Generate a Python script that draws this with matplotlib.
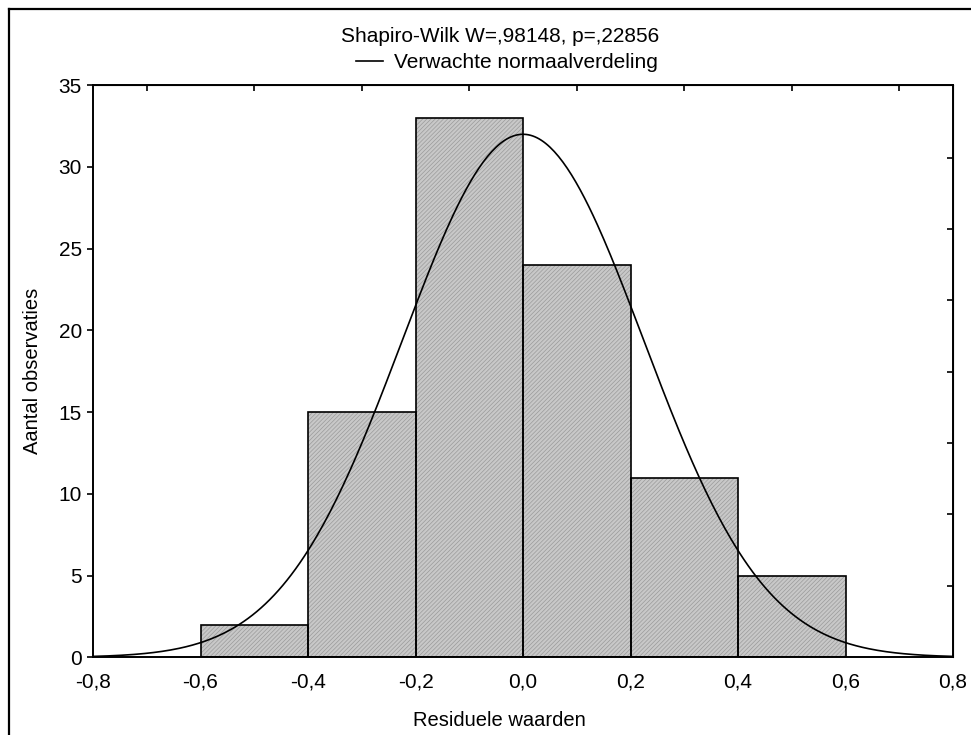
import numpy as np
import matplotlib.pyplot as plt
from matplotlib.lines import Line2D

plt.rcParams['font.family'] = ['Liberation Sans', 'DejaVu Sans']
plt.rcParams['hatch.linewidth'] = 0.5

# histogram of residuals
bin_edges = [-0.6, -0.4, -0.2, 0.0, 0.2, 0.4, 0.6]
counts = [2, 15, 33, 24, 11, 5]

# expected normal distribution
mean_res = 0.0
sd_res = 0.2244
n_obs = sum(counts)
bin_width = 0.2

x_ticks = [-0.8, -0.6, -0.4, -0.2, 0.0, 0.2, 0.4, 0.6, 0.8]
x_labels = ['-0,8', '-0,6', '-0,4', '-0,2', '0,0', '0,2', '0,4', '0,6', '0,8']
top_ticks = [-0.7, -0.5, -0.3, -0.1, 0.1, 0.3, 0.5, 0.7]
y_ticks = [0, 5, 10, 15, 20, 25, 30, 35]
right_ticks = [4.37, 8.74, 13.1, 17.47, 21.84, 26.2, 30.57]

title = 'Shapiro-Wilk W=,98148, p=,22856'
curve_label = 'Verwachte normaalverdeling'

fig = plt.figure(figsize=(9.71, 7.35), dpi=100)
ax = fig.add_axes([0.0958, 0.1057, 0.8857, 0.7783])

lefts = bin_edges[:-1]
ax.bar(lefts, counts, width=bin_width, align='edge', color='#c8c8c8',
       edgecolor='#9a9a9a', linewidth=0, hatch='////////', zorder=1)
ax.bar(lefts, counts, width=bin_width, align='edge', fill=False,
       edgecolor='black', linewidth=1.2, zorder=2)

xs = np.linspace(-0.8, 0.8, 400)
ys = n_obs * bin_width / (sd_res * np.sqrt(2 * np.pi)) * np.exp(-0.5 * ((xs - mean_res) / sd_res) ** 2)
ax.plot(xs, ys, color='black', linewidth=1.2, zorder=3)

ax.set_xlim(-0.8, 0.8)
ax.set_ylim(0, 35)
ax.set_xticks(x_ticks)
ax.set_xticklabels(x_labels)
ax.set_yticks(y_ticks)
ax.tick_params(axis='x', length=0, pad=11, labelsize=15)
ax.tick_params(axis='y', direction='out', length=4, width=1.2, pad=4, labelsize=15)
for s in ax.spines.values():
    s.set_linewidth(1.4)

ax_top = ax.secondary_xaxis('top')
ax_top.set_xticks(top_ticks)
ax_top.tick_params(direction='in', length=4, width=1.2, labeltop=False)
ax_right = ax.secondary_yaxis('right')
ax_right.set_yticks(right_ticks)
ax_right.tick_params(direction='in', length=4, width=1.2, labelright=False)

ax.set_xlabel('Residuele waarden', fontsize=14.5)
ax.xaxis.set_label_coords(0.473, -0.093)
ax.set_ylabel('Aantal observaties', fontsize=14.5, labelpad=12)

fig.text(0.515, 1 - 36 / 735, title, ha='center', va='center', fontsize=15)
handle = Line2D([], [], color='black', linewidth=1.2)
fig.legend([handle], [curve_label], loc='center',
           bbox_to_anchor=(0.522, 1 - 63 / 735), frameon=False, fontsize=15,
           handlelength=1.3, handletextpad=0.55, borderpad=0)

# outer frame (left and top)
fig.add_artist(Line2D([0.0093, 0.0093], [0, 0.988], transform=fig.transFigure,
                      color='black', linewidth=1.6))
fig.add_artist(Line2D([0.0093, 1], [0.988, 0.988], transform=fig.transFigure,
                      color='black', linewidth=1.6))

fig.savefig('out.png', dpi=100)
